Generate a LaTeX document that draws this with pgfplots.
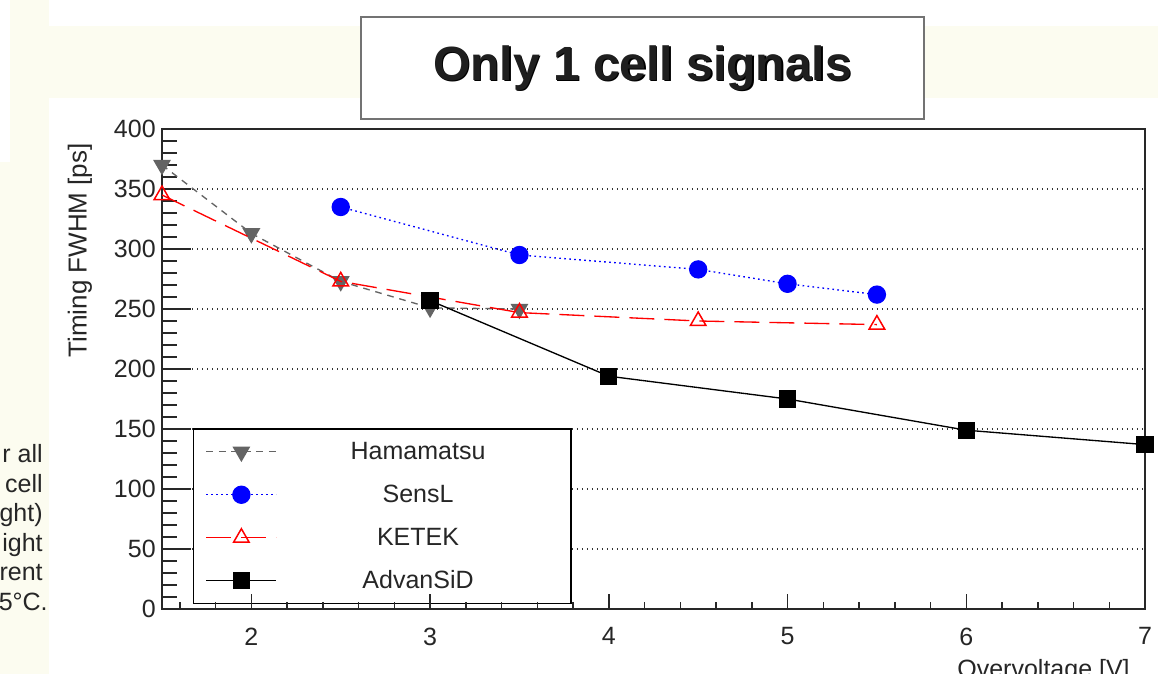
\documentclass[border=0pt]{standalone}
\usepackage{pgfplots}
\pgfplotsset{compat=1.18}
\usepackage{fontspec}
\setmainfont{Liberation Sans}
\definecolor{cream}{RGB}{252,252,240}
\definecolor{hgray}{RGB}{100,100,100}
\definecolor{frame}{RGB}{40,40,40}

\pgfplotstableread{
x y
1.5 370
2.0 313
2.5 273
3.0 251
3.5 250
}\hamamatsu
\pgfplotstableread{
x y
2.5 335
3.5 295
4.5 283
5.0 271
5.5 262
}\sensl
\pgfplotstableread{
x y
1.5 345
2.5 273
3.5 247
4.5 240
5.5 237
}\ketek
\pgfplotstableread{
x y
3.0 257
4.0 194
5.0 175
6.0 149
7.0 137
}\advansid

\begin{document}
\begin{tikzpicture}[x=0.6pt,y=0.6pt]
\useasboundingbox (0,0) rectangle (1158,674);
\clip (0,0) rectangle (1158,674);
\fill[white] (0,0) rectangle (1158,674);
\fill[cream] (0,0) rectangle (49,512);
\fill[cream] (10,512) rectangle (49,674);
\fill[cream] (49,576) rectangle (1158,648);

% fragments of slide text on the left
\begin{scope}[every node/.style={font=\fontsize{15}{18}\selectfont, inner sep=0pt, anchor=base east, text=black!85}]
\node at (43,211) {r all};
\node at (43,181) {cell};
\node at (43,152) {ght)};
\node at (43,122) {ight};
\node at (43,93) {rent};
\node at (48,63) {5°C.};
\end{scope}

% title box
\node[draw=black!55, line width=0.9pt, fill=white, minimum width=337.8pt, minimum height=61.2pt, inner sep=0pt] at (642.5,606) {};
\node[font=\fontsize{28.8}{34}\selectfont\bfseries, text=black, inner sep=0pt] at (644,604.5) {Only 1 cell signals};
\node[font=\fontsize{28.8}{34}\selectfont\bfseries, text=black!88, inner sep=0pt] at (642.5,606) {Only 1 cell signals};

% y label
\node[rotate=90, anchor=east, inner sep=0pt, font=\fontsize{15.6}{18}\selectfont, text=black!85] at (80,531) {Timing FWHM [ps]};
% x label
\node[anchor=base east, inner sep=0pt, font=\fontsize{15}{18}\selectfont, text=black!85] at (1130,-4) {Overvoltage [V]};

\begin{axis}[
  at={(97.2pt,39pt)}, anchor=south west,
  scale only axis, width=589.8pt, height=288pt,
  xmin=1.5, xmax=7, ymin=0, ymax=400,
  axis line style={line width=1.2pt, frame},
  xtick=\empty,
  ytick={0,50,...,400}, minor y tick num=4, ytick pos=left,
  tick align=inside, major tick length=17.4pt, minor tick length=9pt,
  tick style={line width=0.9pt, frame},
  ymajorgrids,
  major grid style={black!80, line width=0.8pt, dash pattern=on 0.8pt off 2.2pt},
  /pgf/number format/assume math mode=true,
  yticklabel style={font=\fontsize{15}{18}\selectfont, text=black!85, inner sep=0pt, xshift=-3.6pt},
  clip mode=individual,
  legend style={at={(0.0315,0.0104)}, anchor=south west, draw=black, line width=0.9pt, fill=white,
    inner xsep=7.2pt, inner ysep=0.6pt, row sep=0pt, column sep=0pt,
    nodes={inner sep=0pt, minimum height=25.8pt, font=\fontsize{15}{18}\selectfont, text=black!85}},
  legend cell align=center,
  legend image code/.code={
    \draw[mark repeat=2,mark phase=2] plot coordinates {(0pt,0pt) (21pt,0pt) (42pt,0pt)};
  },
]
\addplot[hgray, line width=0.8pt, dash pattern=on 4pt off 3.5pt, mark=triangle*, mark size=5.4pt,
  mark options={solid, rotate=180, fill=hgray, draw=hgray}] table {\hamamatsu};
\addlegendentry{\makebox[169.2pt][c]{Hamamatsu}}
\addplot[blue, line width=0.8pt, dash pattern=on 1pt off 2pt, mark=*, mark size=5.1pt,
  mark options={solid, fill=blue, draw=blue}] table {\sensl};
\addlegendentry{\makebox[169.2pt][c]{SensL}}
\addplot[red, line width=0.8pt, dash pattern=on 15pt off 6pt, mark=triangle, mark size=5.4pt,
  mark options={solid, draw=red, fill=white, line width=0.9pt}] table {\ketek};
\addlegendentry{\makebox[169.2pt][c]{KETEK}}
\addplot[black, line width=0.8pt, mark=square*, mark size=4.8pt,
  mark options={solid, fill=black}] table {\advansid};
\addlegendentry{\makebox[169.2pt][c]{AdvanSiD}}
\end{axis}

\begin{axis}[
  at={(97.2pt,39pt)}, anchor=south west,
  scale only axis, width=589.8pt, height=288pt,
  xmin=1.5, xmax=7, ymin=0, ymax=400,
  axis line style={draw=none},
  ytick=\empty,
  xtick={2,3,4,5,6,7}, xtick pos=left,
  minor xtick={1.6,1.8,2.2,2.4,2.6,2.8,3.2,3.4,3.6,3.8,4.2,4.4,4.6,4.8,5.2,5.4,5.6,5.8,6.2,6.4,6.6,6.8},
  tick align=inside, major tick length=9pt, minor tick length=4.2pt,
  tick style={line width=0.9pt, frame},
  /pgf/number format/assume math mode=true,
  xticklabel style={font=\fontsize{15}{18}\selectfont, text=black!85, inner sep=0pt, yshift=-11pt},
]
\end{axis}
\end{tikzpicture}
\end{document}
